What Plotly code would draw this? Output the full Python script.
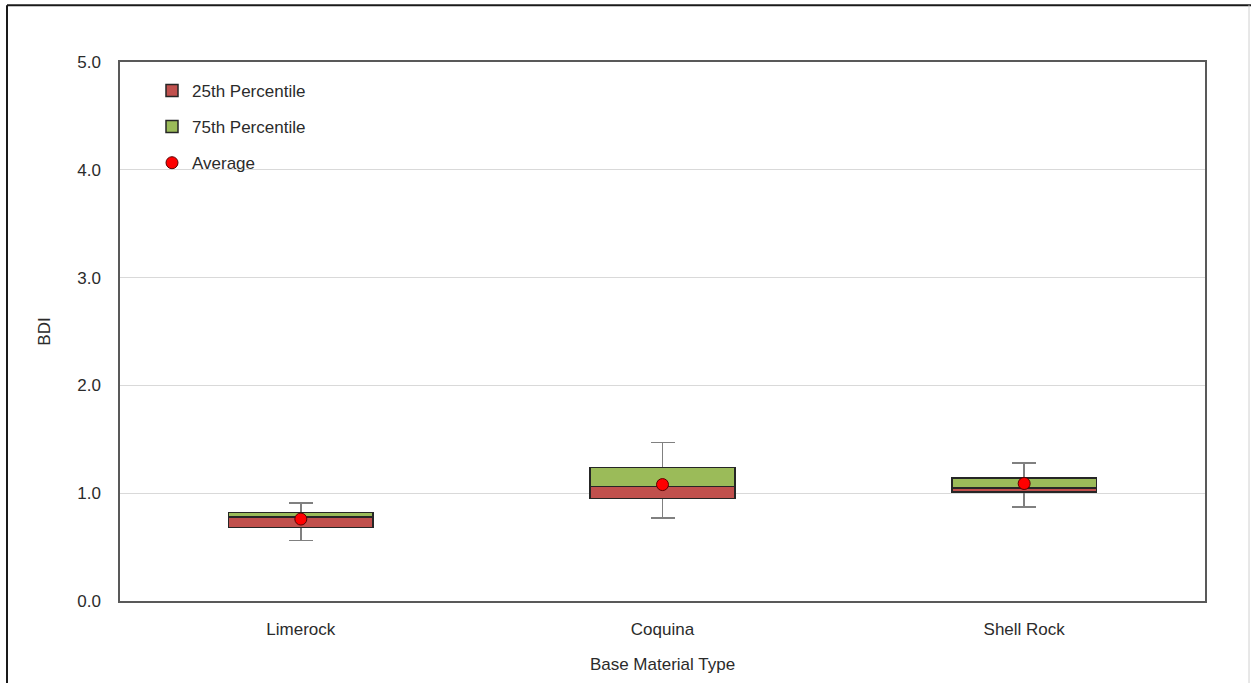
import plotly.graph_objects as go

categories = ["Limerock", "Coquina", "Shell Rock"]
whisker_min = [0.56, 0.77, 0.87]
q1 = [0.68, 0.95, 1.01]
median = [0.78, 1.06, 1.05]
q3 = [0.82, 1.24, 1.14]
whisker_max = [0.91, 1.47, 1.28]
average = [0.76, 1.08, 1.09]

red_size = [m - a for m, a in zip(median, q1)]
green_size = [b - m for m, b in zip(median, q3)]
err_plus = [mx - a for mx, a in zip(whisker_max, q1)]
err_minus = [a - mn for a, mn in zip(q1, whisker_min)]

FONT = "Liberation Sans, Arial, sans-serif"
fig = go.Figure()

# invisible base bar carrying the whiskers
fig.add_trace(go.Bar(
    x=categories, y=q1, showlegend=False, hoverinfo="skip",
    marker=dict(color="rgba(0,0,0,0)", line=dict(width=0)),
    error_y=dict(type="data", symmetric=False, array=err_plus, arrayminus=err_minus,
                 color="#808080", thickness=1.5, width=12),
))
fig.add_trace(go.Bar(
    x=categories, y=red_size, name="25th Percentile", legendgroup="a",
    marker=dict(color="#C0504D", line=dict(color="#262626", width=1.5)),
))
fig.add_trace(go.Bar(
    x=categories, y=green_size, name="75th Percentile", legendgroup="b",
    marker=dict(color="#9BBB59", line=dict(color="#262626", width=1.5)),
))
fig.add_trace(go.Scatter(
    x=categories, y=average, name="Average", mode="markers", legendgroup="c",
    marker=dict(color="#FF0000", size=12, line=dict(color="#5a0000", width=1)),
))

L, R, T, B = 120, 46, 62, 80
W, H = 1251, 683
pw, ph = W - L - R, H - T - B

def px_x(p):
    return (p - L) / pw

def px_y(p):
    return (H - B - p) / ph

fig.update_layout(
    width=W, height=H,
    margin=dict(l=L, r=R, t=T, b=B),
    barmode="stack", bargap=0.6,
    plot_bgcolor="white", paper_bgcolor="white",
    font=dict(family=FONT, size=17, color="#2b2b2b"),
    showlegend=True,
    legend=dict(x=px_x(152), y=px_y(73), xanchor="left", yanchor="top",
                bgcolor="rgba(0,0,0,0)", font=dict(size=17, color="#2b2b2b"),
                traceorder="grouped", tracegroupgap=11, itemwidth=30),
    xaxis=dict(
        range=[-0.5, 2.5], showgrid=False, showline=True, mirror=True,
        linecolor="#595959", linewidth=1.5, ticklabelstandoff=12,
        title=dict(text="Base Material Type", font=dict(size=17), standoff=20),
        tickfont=dict(size=17),
    ),
    yaxis=dict(
        range=[0, 5], dtick=1, tickformat=".1f", showgrid=True, gridcolor="#d9d9d9",
        gridwidth=1, zeroline=False, showline=True, mirror=True,
        linecolor="#595959", linewidth=1.5, ticklabelstandoff=14,
        title=dict(text="BDI", font=dict(size=17), standoff=22),
        tickfont=dict(size=17),
    ),
    shapes=[
        dict(type="line", xref="paper", yref="paper", x0=px_x(7), x1=px_x(1251),
             y0=px_y(5), y1=px_y(5), line=dict(color="#1a1a1a", width=2)),
        dict(type="line", xref="paper", yref="paper", x0=px_x(7), x1=px_x(7),
             y0=px_y(5), y1=px_y(690), line=dict(color="#1a1a1a", width=2)),
        dict(type="line", xref="paper", yref="paper", x0=px_x(1249), x1=px_x(1249),
             y0=px_y(5), y1=px_y(690), line=dict(color="#d0d0d0", width=1)),
    ],
)

fig.write_html("out.html", config={"displayModeBar": False},
               post_script="document.body.style.margin='0';document.body.style.overflow='hidden';")
